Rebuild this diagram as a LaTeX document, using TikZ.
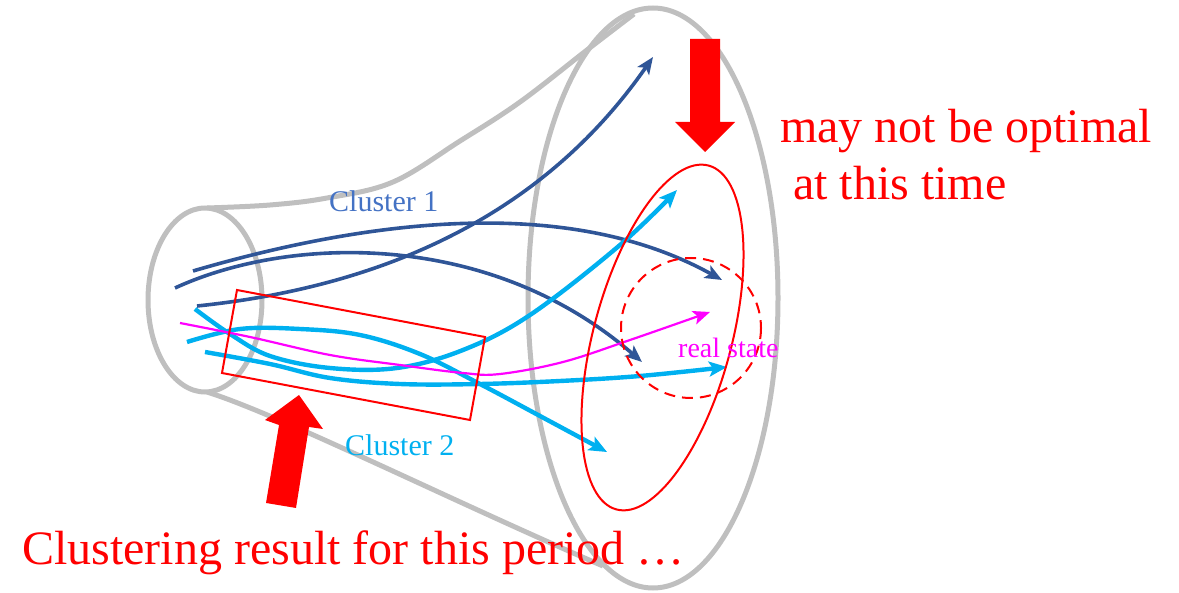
\documentclass[tikz,border=0pt]{standalone}
\usepackage{fontspec}
\setmainfont{Liberation Serif}
\usetikzlibrary{arrows.meta}
\definecolor{cdark}{HTML}{2F5597}
\definecolor{clight}{HTML}{00B0F0}
\definecolor{cgray}{HTML}{BFBFBF}
\definecolor{clabel}{HTML}{4472C4}
\definecolor{cmag}{HTML}{FF00FF}
\definecolor{cred}{HTML}{FF0000}
\begin{document}
\begin{tikzpicture}[x=1pt,y=-1pt,
  shell/.style={draw=cgray, line width=5pt},
  darkpath/.style={draw=cdark, line width=3.6pt, -{Stealth[length=17pt,width=14pt,inset=4pt]}},
  lightpath/.style={draw=clight, line width=4.4pt, -{Stealth[length=18pt,width=15pt,inset=4pt]}},
  magpath/.style={draw=cmag, line width=2.2pt, -{Stealth[length=17pt,width=14pt,inset=4pt]}},
  redline/.style={draw=cred, line width=2pt},
  bigarrow/.style={fill=cred, draw=none},
  bigtext/.style={text=cred, font=\fontsize{48}{56}\selectfont, inner sep=0pt, anchor=base west},
  lab/.style={font=\fontsize{30}{36}\selectfont, inner sep=0pt, anchor=base west},
]
\useasboundingbox (0,0) rectangle (1179,593);
% gray funnel
\draw[shell] (205,300) ellipse [x radius=57, y radius=92];
\draw[shell] (653,298) ellipse [x radius=125, y radius=290];
\draw[shell] plot[smooth, tension=0.6] coordinates {(207,208) (270,205) (327,198) (393,182) (460,141) (520,102) (587,50) (634,14)};
\draw[shell] (207,392) .. controls (280,415) and (450,500) .. (603,566);
% cluster 1 trajectories
\draw[darkpath] (193,271) .. controls (350,225) and (560,190) .. (722,280);
\draw[darkpath] (175,288) .. controls (290,235) and (490,230) .. (642,362);
\draw[darkpath] (197,306) .. controls (400,285) and (550,205) .. (653,57);
% cluster 2 trajectories
\draw[lightpath] plot[smooth, tension=0.6] coordinates {(195,309) (230,334) (270,356) (330,368) (397,368) (463,350) (530,315) (620,245) (677,190)};
\draw[lightpath] plot[smooth, tension=0.6] coordinates {(187,342) (240,329) (300,329) (360,335) (420,354) (480,384) (540,416) (607,452)};
\draw[lightpath] plot[smooth, tension=0.6] coordinates {(205,352) (270,364) (330,378) (400,384) (480,384) (560,381) (640,376) (727,367)};
% real state trajectory
\draw[magpath] plot[smooth, tension=0.6] coordinates {(180,323) (250,337) (330,355) (400,365) (463,373) (500,374) (563,362) (630,340) (710,312)};
% red marks
\draw[redline] (237,290) -- (485,337) -- (470,420) -- (222,373) -- cycle;
\draw[redline, rotate around={-15:(662.5,337.5)}] (662.5,337.5) ellipse [x radius=69, y radius=178];
\draw[redline, dash pattern=on 11pt off 7pt] (691,328) circle [radius=70];
\fill[bigarrow] (690,39) -- (720,39) -- (720,122) -- (735,122) -- (705,152) -- (675,122) -- (690,122) -- cycle;
\fill[bigarrow] (266,503) -- (279,425) -- (265,420) -- (299,395) -- (323,429) -- (309,427) -- (296,508) -- cycle;
% texts
\node[bigtext] (t1) at (780,143) {may not be optimal};
\node[bigtext] (t2) at (793,200) {at this time};
\node[bigtext] (t3) at (22,565) {Clustering result for this period …};
\node[lab, text=clabel] (c1) at (329,212) {Cluster 1};
\node[lab, text=clight] (c2) at (345,456) {Cluster 2};
\node[lab, text=cmag, font=\fontsize{28}{34}\selectfont] (rs) at (678,358) {real state};
\end{tikzpicture}
\end{document}
